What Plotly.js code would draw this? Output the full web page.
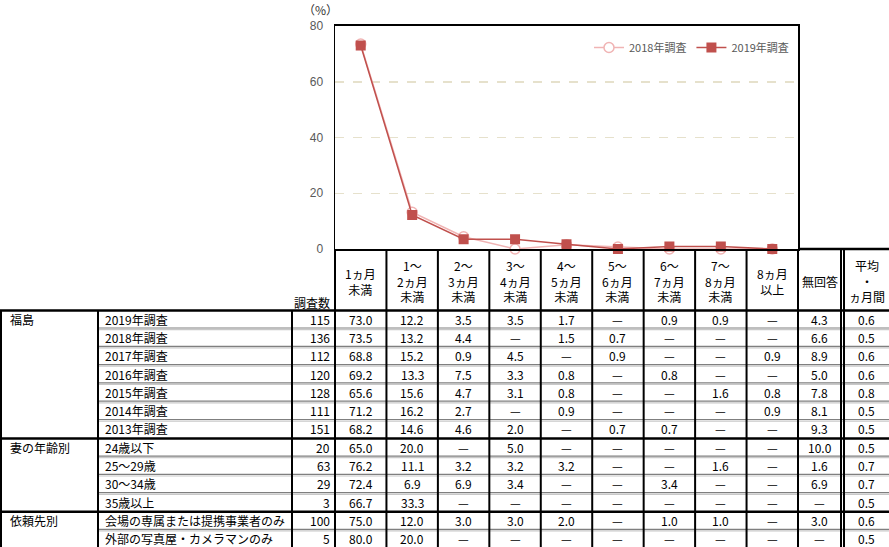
<!DOCTYPE html>
<html>
<head>
<meta charset="utf-8">
<script src="https://cdn.plot.ly/plotly-3.0.1.min.js"></script>
<style>html,body{margin:0;padding:0;background:#fff;}#chart{width:889px;height:547px;}</style>
</head>
<body>
<div id="chart"></div>
<script>
// ---- data ----
const categories = ["1ヵ月未満","1～2ヵ月未満","2～3ヵ月未満","3～4ヵ月未満","4～5ヵ月未満","5～6ヵ月未満","6～7ヵ月未満","7～8ヵ月未満","8ヵ月以上"];
const series2018 = [73.5, 13.2, 4.4, 0, 1.5, 0.7, 0, 0, 0];
const series2019 = [73.0, 12.2, 3.5, 3.5, 1.7, 0, 0.9, 0.9, 0];
const yTicks = [0, 20, 40, 60, 80];

const headerLabels = ["1ヵ月<br>未満","1～<br>2ヵ月<br>未満","2～<br>3ヵ月<br>未満","3～<br>4ヵ月<br>未満","4～<br>5ヵ月<br>未満","5～<br>6ヵ月<br>未満","6～<br>7ヵ月<br>未満","7～<br>8ヵ月<br>未満","8ヵ月<br>以上","無回答","平均<br>・<br>ヵ月間"];
const groupNames = ["福島","妻の年齢別","依頼先別"];
const groupSizes = [7, 4, 2];
const rowLabels = ["2019年調査","2018年調査","2017年調査","2016年調査","2015年調査","2014年調査","2013年調査","24歳以下","25～29歳","30～34歳","35歳以上","会場の専属または提携事業者のみ","外部の写真屋・カメラマンのみ"];
const rowCounts = [115, 136, 112, 120, 128, 111, 151, 20, 63, 29, 3, 100, 5];
const rowValues = [
  ["73.0","12.2","3.5","3.5","1.7","—","0.9","0.9","—","4.3","0.6"],
  ["73.5","13.2","4.4","—","1.5","0.7","—","—","—","6.6","0.5"],
  ["68.8","15.2","0.9","4.5","—","0.9","—","—","0.9","8.9","0.6"],
  ["69.2","13.3","7.5","3.3","0.8","—","0.8","—","—","5.0","0.6"],
  ["65.6","15.6","4.7","3.1","0.8","—","—","1.6","0.8","7.8","0.8"],
  ["71.2","16.2","2.7","—","0.9","—","—","—","0.9","8.1","0.5"],
  ["68.2","14.6","4.6","2.0","—","0.7","0.7","—","—","9.3","0.5"],
  ["65.0","20.0","—","5.0","—","—","—","—","—","10.0","0.5"],
  ["76.2","11.1","3.2","3.2","3.2","—","—","1.6","—","1.6","0.7"],
  ["72.4","6.9","6.9","3.4","—","—","3.4","—","—","6.9","0.7"],
  ["66.7","33.3","—","—","—","—","—","—","—","—","0.5"],
  ["75.0","12.0","3.0","3.0","2.0","—","1.0","1.0","—","3.0","0.6"],
  ["80.0","20.0","—","—","—","—","—","—","—","—","0.5"]
];

// ---- layout geometry (pixels) ----
const W = 889, H = 547;
const plotL = 335, plotR = 798, plotT = 26, plotB = 249;
const colW = (plotR - plotL) / categories.length;
const edges = [];
for (let i = 0; i <= categories.length; i++) edges.push(plotL + i * colW);
edges.push(841, 889); // 無回答, 平均
const colCenters = [];
for (let i = 0; i < categories.length; i++) colCenters.push(plotL + (i + 0.5) * colW);
colCenters.push((798 + 841) / 2, (844 + 889) / 2);
const tableTop = 310.5, rowH = 18.3;

const px = x => x / W;
const py = y => 1 - y / H;
const FONT = '"Noto Sans CJK JP", "Noto Sans", sans-serif';

const shapes = [];
const annotations = [];
function line(x0, y0, x1, y1, color, width) {
  shapes.push({type: 'line', xref: 'paper', yref: 'paper', x0: px(x0), y0: py(y0), x1: px(x1), y1: py(y1),
    line: {color: color, width: width}, layer: 'above'});
}
function text(x, y, t, xanchor, size, color) {
  annotations.push({xref: 'paper', yref: 'paper', x: px(x), y: py(y), text: t, showarrow: false,
    xanchor: xanchor, yanchor: 'middle', align: 'center',
    font: {family: FONT, size: size || 12, color: color || '#000'}});
}

// row separators (gray double)
let r = 0;
const groupStarts = [];
groupSizes.forEach(n => { groupStarts.push(r); r += n; });
for (let i = 1; i < rowLabels.length; i++) {
  if (groupStarts.indexOf(i) >= 0) continue;
  const y = tableTop + i * rowH;
  line(98, y - 0.8, 889, y - 0.8, '#7f7f7f', 1.2);
  line(98, y + 0.8, 889, y + 0.8, '#c8c8c8', 1.2);
}
// group lines (black thick)
groupStarts.forEach(i => { const y = tableTop + i * rowH; line(0, y, 889, y, '#000', 2.5); });
// vertical lines
for (let i = 0; i < edges.length - 1; i++) line(edges[i], plotB, edges[i], H, '#000', 2);
line(844, plotB, 844, H, '#000', 2);
line(798, plotB, 889, plotB, '#000', 2.5);
[1, 98, 292].forEach(x => line(x, tableTop, x, H, '#000', 2));

// header texts
headerLabels.forEach((h, i) => text(colCenters[i], 281, h, 'center', 12));
text(332, 302, '調査数', 'right', 12);
text(320, 10, '（%）', 'center', 12, '#333');

// body texts
groupNames.forEach((g, k) => text(8, tableTop + groupStarts[k] * rowH + rowH / 2, g, 'left', 12));
rowLabels.forEach((lab, i) => {
  const yc = tableTop + i * rowH + rowH / 2 - 0.5;
  text(103, yc, lab, 'left', 12);
  text(332, yc, String(rowCounts[i]), 'right', 12);
  rowValues[i].forEach((v, j) => text(colCenters[j], yc, v, 'center', 12));
});

const traces = [
  {x: categories, y: series2018, name: '2018年調査', type: 'scatter', mode: 'lines+markers', cliponaxis: false,
   line: {color: '#f0b4b4', width: 1.5},
   marker: {symbol: 'circle', size: 10, color: '#ffffff', line: {color: '#f0b4b4', width: 1.5}}},
  {x: categories, y: series2019, name: '2019年調査', type: 'scatter', mode: 'lines+markers', cliponaxis: false,
   line: {color: '#c0504d', width: 1.5},
   marker: {symbol: 'square', size: 10, color: '#c0504d'}}
];

const layout = {
  width: W, height: H, autosize: false,
  margin: {l: 0, r: 0, t: 0, b: 0},
  paper_bgcolor: '#fff', plot_bgcolor: '#fff',
  showlegend: true,
  legend: {orientation: 'h', x: px(plotR - 4), xanchor: 'right', y: py(33), yanchor: 'top',
    bgcolor: 'rgba(0,0,0,0)', font: {family: FONT, size: 11, color: '#595959'}, itemwidth: 30, tracegroupgap: 0},
  xaxis: {domain: [px(plotL), px(plotR)], type: 'category', range: [-0.5, categories.length - 0.5],
    showticklabels: false, ticks: '', showgrid: false, zeroline: false,
    showline: true, linecolor: '#000', linewidth: 2, mirror: true, fixedrange: true},
  yaxis: {domain: [py(plotB), py(plotT)], range: [0, 80], tickvals: yTicks, ticktext: yTicks.map(String),
    ticks: '', showgrid: true, gridcolor: '#e6e1cc', griddash: 'dash', gridwidth: 1.5, zeroline: false,
    showline: true, linecolor: '#000', linewidth: 1.5, mirror: true, ticklabelstandoff: 8,
    tickfont: {family: 'Arial, "Liberation Sans", sans-serif', size: 12, color: '#595959'}, fixedrange: true},
  shapes: shapes,
  annotations: annotations
};

Plotly.newPlot('chart', traces, layout, {displayModeBar: false, staticPlot: true});
</script>
</body>
</html>
